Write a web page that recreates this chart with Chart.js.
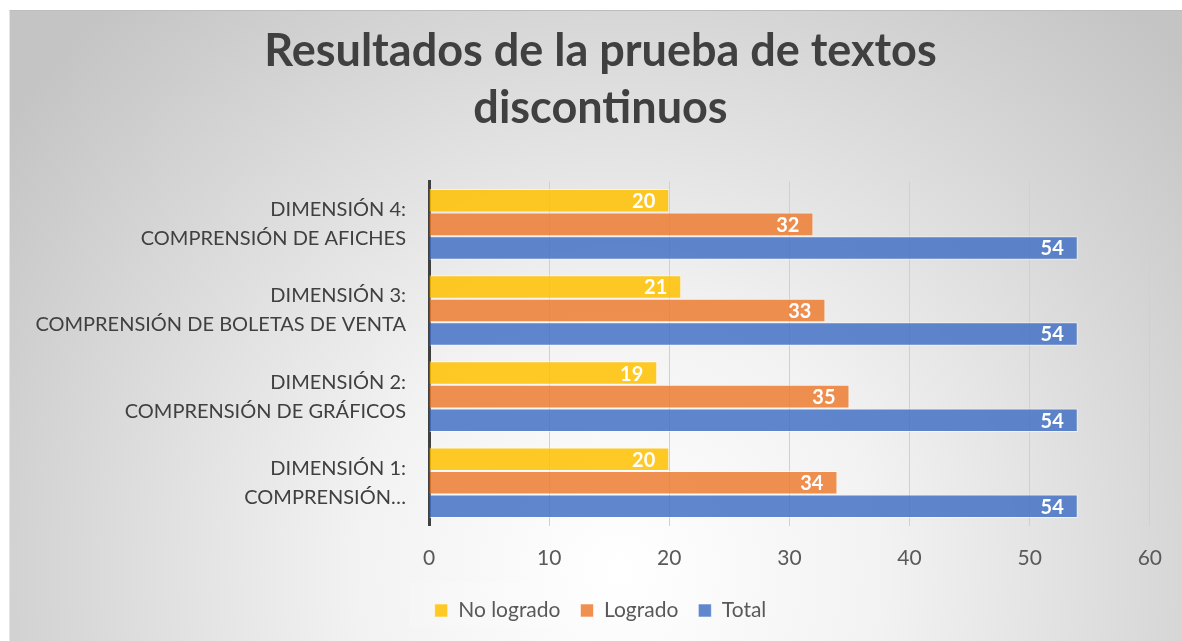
<!DOCTYPE html>
<html>
<head>
<meta charset="utf-8">
<script src="https://cdn.jsdelivr.net/npm/chart.js@4/dist/chart.umd.min.js"></script>
<style>
  html, body { margin: 0; padding: 0; background: #ffffff; overflow: hidden; }
  #frame { position: absolute; left: 9px; top: 10px; width: 1173px; height: 631px;
           border-top: 1px solid #bdbdbd; border-left: 1px solid #e6e6e6; box-sizing: border-box; }
  canvas { display: block; }
</style>
</head>
<body>
<div id="frame"><canvas id="c"></canvas></div>
<script>
const titleLines = ['Resultados de la prueba de textos', 'discontinuos'];
const categories = [
  ['DIMENSIÓN 4:', 'COMPRENSIÓN DE AFICHES'],
  ['DIMENSIÓN 3:', 'COMPRENSIÓN DE BOLETAS DE VENTA'],
  ['DIMENSIÓN 2:', 'COMPRENSIÓN DE GRÁFICOS'],
  ['DIMENSIÓN 1:', 'COMPRENSIÓN…']
];
const seriesNames = ['No logrado', 'Logrado', 'Total'];
const noLogrado = [20, 21, 19, 20];
const logrado = [32, 33, 35, 34];
const total = [54, 54, 54, 54];
const xTicks = [0, 10, 20, 30, 40, 50, 60];

const FONT = 'Lato';

const bgPlugin = {
  id: 'bg',
  beforeDraw(chart) {
    const {ctx, width, height} = chart;
    ctx.save();
    const g = ctx.createRadialGradient(610, 560, 0, 610, 560, 760);
    g.addColorStop(0, '#ffffff');
    g.addColorStop(0.35, '#f2f2f2');
    g.addColorStop(1, '#c4c4c4');
    ctx.fillStyle = g;
    ctx.fillRect(0, 0, width, height);
    const lg = chart.legend;
    if (lg) {
      ctx.fillStyle = 'rgba(255,255,255,0.18)';
      ctx.fillRect(399, lg.top + 2, 254, 46);
    }
    ctx.restore();
  }
};

const labelPlugin = {
  id: 'valueLabels',
  afterDatasetsDraw(chart) {
    const {ctx} = chart;
    ctx.save();
    ctx.font = 'bold 20px ' + FONT;
    ctx.fillStyle = '#ffffff';
    ctx.textAlign = 'right';
    ctx.textBaseline = 'middle';
    chart.data.datasets.forEach((ds, i) => {
      const meta = chart.getDatasetMeta(i);
      meta.data.forEach((el, j) => {
        ctx.fillText(String(ds.data[j]), el.x - 14, el.y + 1);
      });
    });
    ctx.restore();
  }
};

new Chart(document.getElementById('c'), {
  type: 'bar',
  data: {
    labels: categories,
    datasets: [
      { label: seriesNames[0], data: noLogrado, backgroundColor: 'rgba(255,192,0,0.85)' },
      { label: seriesNames[1], data: logrado, backgroundColor: 'rgba(237,125,49,0.85)' },
      { label: seriesNames[2], data: total, backgroundColor: 'rgba(68,114,196,0.85)' }
    ]
  },
  options: {
    indexAxis: 'y',
    responsive: true,
    maintainAspectRatio: false,
    animation: false,
    datasets: {
      bar: { categoryPercentage: 0.82, barPercentage: 1.0, borderWidth: 1, borderColor: 'rgba(255,255,255,0.55)' }
    },
    layout: { padding: { left: 37, right: 28, top: 0, bottom: 10 } },
    plugins: {
      tooltip: { enabled: false },
      title: {
        display: true,
        text: titleLines,
        color: '#404040',
        font: { family: FONT, size: 45, weight: 'bold', lineHeight: 1.27 },
        padding: { top: 12, bottom: 44 }
      },
      legend: {
        display: true,
        position: 'bottom',
        labels: {
          color: '#595959',
          font: { family: FONT, size: 21 },
          boxWidth: 13,
          boxHeight: 13,
          padding: 20
        }
      }
    },
    scales: {
      x: {
        min: 0, max: 60,
        afterBuildTicks(scale) { scale.ticks = xTicks.map(v => ({ value: v })); },
        afterFit(scale) { scale.height = scale.height - 11; },
        grid: { color: '#d0d0d0', lineWidth: 1, drawTicks: false },
        border: { display: false },
        ticks: { color: '#595959', font: { family: FONT, size: 21 }, padding: 20 }
      },
      y: {
        afterFit(scale) {
          scale.width = 382;
          scale._computeLabelArea = function () { return undefined; };
        },
        grid: { display: true, drawOnChartArea: false, drawTicks: false },
        border: { display: true, color: '#404040', width: 3 },
        ticks: { color: '#404040', font: { family: FONT, size: 20, lineHeight: 1.45 }, padding: 23 }
      }
    }
  },
  plugins: [bgPlugin, labelPlugin]
});
</script>
</body>
</html>
